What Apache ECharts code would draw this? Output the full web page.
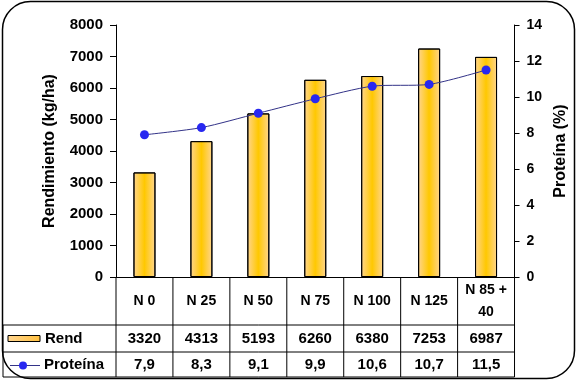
<!DOCTYPE html>
<html><head><meta charset="utf-8">
<script src="https://cdn.jsdelivr.net/npm/echarts@6/dist/echarts.min.js"></script>
<style>html,body{margin:0;padding:0;background:#fff}#c{width:577px;height:381px}</style>
</head><body><div id="c"></div>
<script>
var categories = ['N 0','N 25','N 50','N 75','N 100','N 125','N 85 +\n40'];
var rend = [3320,4313,5193,6260,6380,7253,6987];
var proteina = [7.9,8.3,9.1,9.9,10.6,10.7,11.5];
var rendLabels = ['3320','4313','5193','6260','6380','7253','6987'];
var protLabels = ['7,9','8,3','9,1','9,9','10,6','10,7','11,5'];
var seriesNames = ['Rend','Proteína'];

var FONT = '"Liberation Sans", Arial, sans-serif';
var chart = echarts.init(document.getElementById('c'), null, {renderer:'canvas'});
var barGrad = new echarts.graphic.LinearGradient(0,0,1,0,[
  {offset:0,color:'#FFD590'},{offset:0.5,color:'#FFC800'},{offset:1,color:'#FFD590'}]);
var option = {
  animation:false,
  backgroundColor:'#fff',
  grid:{left:116,right:57.5,top:25,bottom:104,containLabel:false},
  xAxis:{type:'category',data:categories,
    axisLine:{lineStyle:{color:'#000',width:1}},
    axisTick:{show:false},
    axisLabel:{color:'#000',fontFamily:FONT,fontWeight:'bold',fontSize:14,lineHeight:22,verticalAlign:'middle',margin:24,interval:0}},
  yAxis:[
    {type:'value',min:0,max:8000,interval:1000,name:'Rendimiento (kg/ha)',nameLocation:'middle',nameGap:58,
     nameTextStyle:{color:'#000',fontFamily:FONT,fontWeight:'bold',fontSize:16},
     axisLine:{show:true,lineStyle:{color:'#000'}},axisTick:{show:true,length:6,lineStyle:{color:'#000'}},
     splitLine:{show:false},
     axisLabel:{color:'#000',fontFamily:FONT,fontWeight:'bold',fontSize:15,margin:13,formatter:function(v){return String(v);}}},
    {type:'value',min:0,max:14,interval:2,name:'Proteína (%)',nameLocation:'middle',nameGap:29,
     nameTextStyle:{color:'#000',fontFamily:FONT,fontWeight:'bold',fontSize:16},
     axisLine:{show:true,lineStyle:{color:'#000'}},axisTick:{show:true,length:5,lineStyle:{color:'#000'}},
     splitLine:{show:false},
     axisLabel:{color:'#000',fontFamily:FONT,fontWeight:'bold',fontSize:14,margin:12}}
  ],
  series:[
    {name:seriesNames[0],type:'bar',data:rend,barWidth:22,yAxisIndex:0,
     itemStyle:{color:barGrad,borderColor:'#000',borderWidth:1}},
    {name:seriesNames[1],type:'line',data:proteina,yAxisIndex:1,smooth:0.25,
     symbol:'circle',symbolSize:9,
     lineStyle:{color:'#333388',width:1},
     itemStyle:{color:'#2828F0'},z:5}
  ]
};
chart.setOption(option);

var c0 = chart.convertToPixel({xAxisIndex:0},0);
var c1 = chart.convertToPixel({xAxisIndex:0},1);
var bw = c1 - c0;
var y0 = chart.convertToPixel({yAxisIndex:0},0);
var leftX = 3;
var xs = [];
for (var i=0;i<=categories.length;i++) xs.push(c0 - bw/2 + i*bw);
var rightX = xs[xs.length-1];
var r1 = y0 + 48, r2 = r1 + 27, r3 = r2 + 25;
var g = [];
function line(x1,y1,x2,y2){g.push({type:'line',shape:{x1:x1,y1:y1,x2:x2,y2:y2},style:{stroke:'#000',lineWidth:1},z:10});}
[r1,r2,r3].forEach(function(y){line(leftX,y,rightX,y);});
xs.forEach(function(x){line(x,y0,x,r3);});
line(leftX,r1,leftX,r3);
function txt(x,y,t,align){g.push({type:'text',x:x,y:y,style:{text:t,fill:'#000',font:'bold 15px '+FONT,textAlign:align||'center',textVerticalAlign:'middle'},z:10});}
for (var i=0;i<categories.length;i++){
  txt(c0+i*bw,(r1+r2)/2,rendLabels[i]);
  txt(c0+i*bw,(r2+r3)/2,protLabels[i]);
}
// legend keys
g.push({type:'rect',shape:{x:8,y:(r1+r2)/2-3,width:32,height:6},style:{fill:new echarts.graphic.LinearGradient(0,0,1,0,[{offset:0,color:'#FFD590'},{offset:1,color:'#FFC040'}]),stroke:'#000',lineWidth:1},z:10});
txt(45,(r1+r2)/2,seriesNames[0],'left');
line(10,(r2+r3)/2+1,40,(r2+r3)/2+1);
g[g.length-1].style.stroke='#333388';
g.push({type:'circle',shape:{cx:23,cy:(r2+r3)/2+1,r:4},style:{fill:'#2828F0'},z:11});
txt(44,(r2+r3)/2,seriesNames[1],'left');
// outer border
g.push({type:'rect',shape:{x:2.5,y:1.5,width:572,height:377,r:28},style:{fill:null,stroke:'#000',lineWidth:1.5},z:20,silent:true});
chart.setOption({graphic:g});
</script></body></html>
